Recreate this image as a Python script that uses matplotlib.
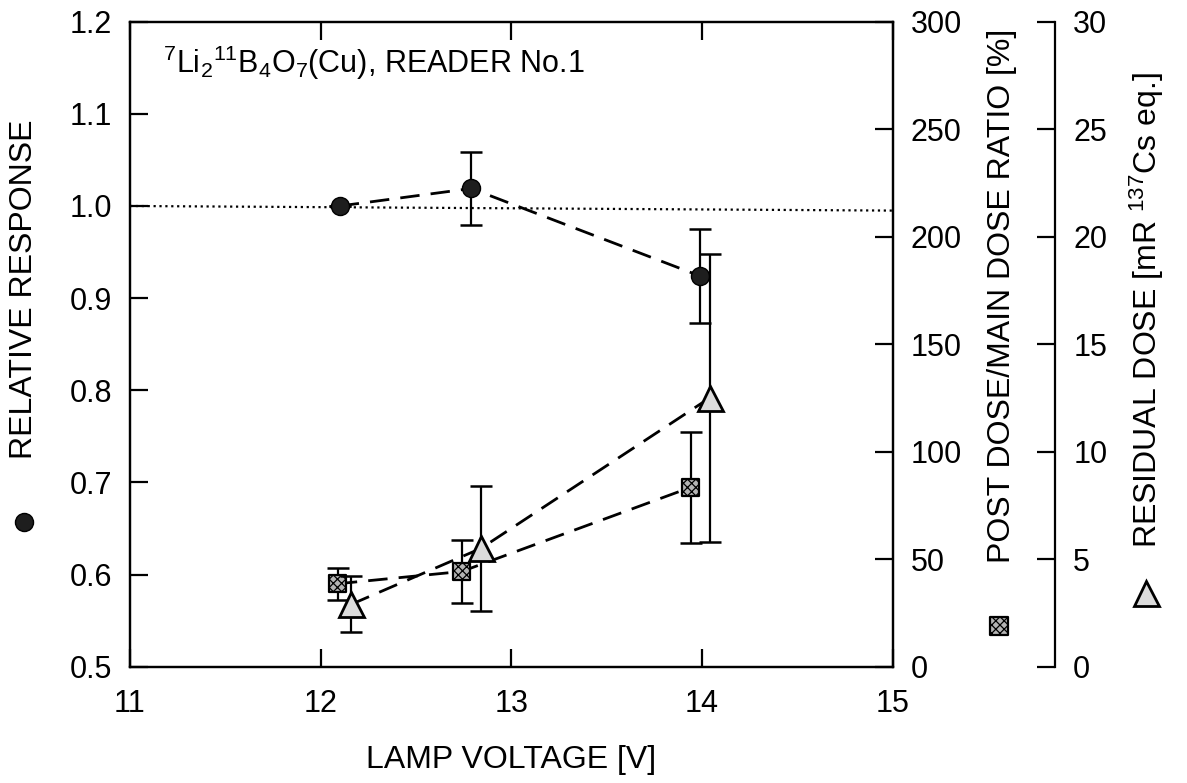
import numpy as np
import matplotlib
matplotlib.use('Agg')
import matplotlib.pyplot as plt

plt.rcParams['font.family'] = ['Liberation Sans', 'DejaVu Sans']
plt.rcParams['mathtext.fontset'] = 'custom'
plt.rcParams['mathtext.rm'] = 'Liberation Sans'
plt.rcParams['mathtext.it'] = 'Liberation Sans:italic'
plt.rcParams['hatch.linewidth'] = 0.9

# relative response (circles, left axis)
volt_resp = [12.10, 12.79, 13.99]
response = [1.000, 1.019, 0.924]
response_err = [0.0, 0.040, 0.051]

# post dose / main dose ratio [%] (squares, first right axis)
volt_post = [12.09, 12.74, 13.94]
post_ratio = [38.6, 44.3, 83.4]
post_err = [7.5, 14.5, 25.7]

# residual dose [mR 137Cs eq.] (triangles, second right axis)
volt_resid = [12.16, 12.84, 14.04]
residual = [2.9, 5.5, 12.5]
resid_err = [1.3, 2.9, 6.7]

# reference line at unity response
ref_x = [11, 15]
ref_y = [1.0, 0.995]

FS = 23      # axis labels
TFS = 22     # tick labels
dash = (0, (7, 4))

fig = plt.figure(figsize=(11.87, 7.83), dpi=100)
ax = fig.add_axes([0.1095, 0.1485, 0.6425, 0.8238])
ax2 = ax.twinx()
ax3 = ax.twinx()

# left axis: relative response
ax.plot(ref_x, ref_y, ls=':', color='k', lw=1.6, zorder=1)
ax.plot(volt_resp, response, ls=dash, color='k', lw=2, zorder=2)
ax.errorbar(volt_resp, response, yerr=response_err, fmt='none', ecolor='k',
            elinewidth=1.6, capsize=8, capthick=1.8, zorder=3)
ax.plot(volt_resp, response, 'o', ms=13, mfc='#1e1e1e', mec='k', zorder=4)

# first right axis: post dose ratio
ax2.plot(volt_post, post_ratio, ls=dash, color='k', lw=2, zorder=2)
ax2.errorbar(volt_post, post_ratio, yerr=post_err, fmt='none', ecolor='k',
             elinewidth=1.6, capsize=8, capthick=1.8, zorder=3)
ax2.scatter(volt_post, post_ratio, marker='s', s=150, facecolor='#b4b4b4',
            edgecolor='k', hatch='xxxx', linewidth=1.6, zorder=4)

# second right axis: residual dose
ax3.plot(volt_resid, residual, ls=dash, color='k', lw=2, zorder=2)
ax3.errorbar(volt_resid, residual, yerr=resid_err, fmt='none', ecolor='k',
             elinewidth=1.6, capsize=8, capthick=1.8, zorder=3)
ax3.plot(volt_resid, residual, '^', ms=18, mfc='#dcdcdc', mec='k', mew=2, zorder=4)

ax.set_xticks([11, 12, 13, 14, 15])
ax.set_yticks(np.arange(0.5, 1.21, 0.1))
ax.set_yticklabels(['%.1f' % v for v in np.arange(0.5, 1.21, 0.1)])
ax2.set_yticks(np.arange(0, 301, 50))
ax3.set_yticks(np.arange(0, 31, 5))

ax.tick_params(axis='both', direction='in', length=13, width=1.6, labelsize=TFS)
ax.tick_params(axis='x', top=True, pad=16)
ax.tick_params(axis='y', right=False, pad=13)
ax2.tick_params(axis='y', direction='in', length=13, width=1.6, labelsize=TFS, pad=13)
ax3.tick_params(axis='y', direction='in', length=13, width=1.6, labelsize=TFS, pad=13)

for a in (ax, ax2, ax3):
    for s in a.spines.values():
        s.set_linewidth(1.6)
ax3.spines['right'].set_position(('outward', 117))
for side in ('top', 'bottom', 'left'):
    ax3.spines[side].set_visible(False)

ax.text(0.043, 0.92, r'$^{7}$Li$_{2}$$^{11}$B$_{4}$O$_{7}$(Cu), READER No.1',
        transform=ax.transAxes, fontsize=FS - 1, va='baseline', ha='left')

W, H = 1187.0, 783.0
fig.text(24 / W, 1 - 289 / H, 'RELATIVE RESPONSE', rotation=90, fontsize=FS,
         ha='center', va='center')
fig.text(1002 / W, 1 - 296 / H, 'POST DOSE/MAIN DOSE RATIO [%]', rotation=90,
         fontsize=FS, ha='center', va='center')
fig.text(1147 / W, 1 - 310 / H, r'RESIDUAL DOSE [mR $^{137}$Cs eq.]', rotation=90,
         fontsize=FS, ha='center', va='center')
fig.text(511 / W, 1 - 760 / H, 'LAMP VOLTAGE [V]', fontsize=FS, ha='center', va='center')

# marker keys beside the axis labels
ax3.plot([24 / W], [1 - 522 / H], 'o', ms=13, mfc='#1e1e1e', mec='k',
         transform=fig.transFigure, clip_on=False)
ax3.scatter([999 / W], [1 - 626 / H], marker='s', s=150, facecolor='#b4b4b4',
            edgecolor='k', hatch='xxxx', linewidth=1.6,
            transform=fig.transFigure, clip_on=False)
ax3.plot([1146 / W], [1 - 593 / H], '^', ms=18, mfc='#dcdcdc', mec='k', mew=2,
         transform=fig.transFigure, clip_on=False)

ax.set_xlim(11, 15)
ax.set_ylim(0.5, 1.2)
ax2.set_ylim(0, 300)
ax3.set_ylim(0, 30)

fig.savefig('out.png', dpi=100)
